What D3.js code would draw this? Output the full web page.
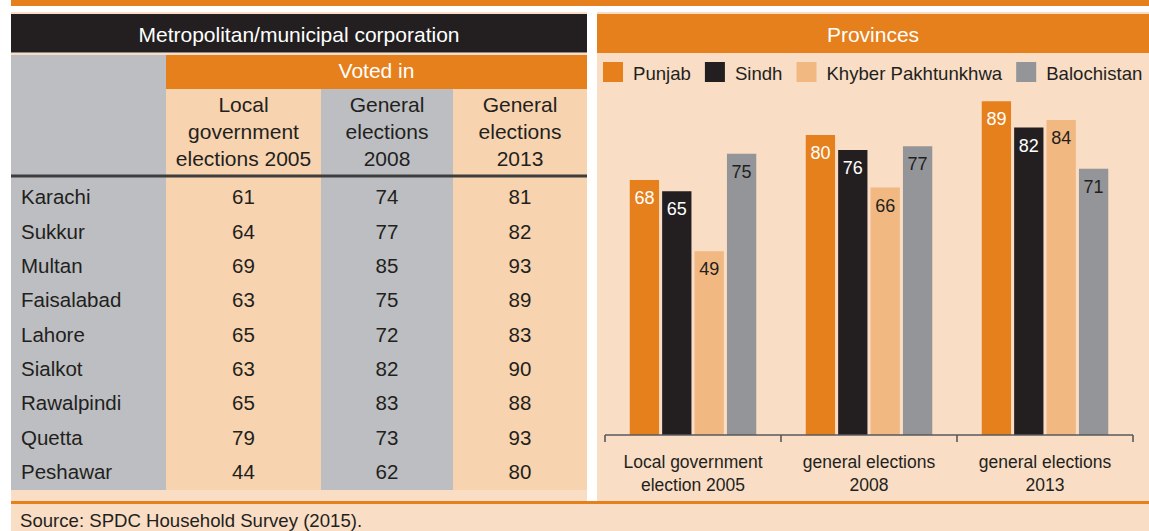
<!DOCTYPE html>
<html lang="en">
<head>
    <meta charset="utf-8">
    <title>Voting by city and province</title>
    <script src="https://d3js.org/d3.v7.min.js"></script>
    <style>
        body {
            margin: 0;
            background-color: #fff;
            font-family: "Liberation Sans", Arial, sans-serif;
        }
        text {
            fill: #231f20;
        }
    </style>
</head>
<body>
    <svg id="chart" width="1149" height="531"></svg>

    <script>
        // table data
        const cities = ["Karachi", "Sukkur", "Multan", "Faisalabad", "Lahore", "Sialkot", "Rawalpindi", "Quetta", "Peshawar"];
        const local2005 = [61, 64, 69, 63, 65, 63, 65, 79, 44];
        const general2008 = [74, 77, 85, 75, 72, 82, 83, 73, 62];
        const general2013 = [81, 82, 93, 89, 83, 90, 88, 93, 80];
        const tableHeads = [
            ["Local", "government", "elections 2005"],
            ["General", "elections", "2008"],
            ["General", "elections", "2013"]
        ];

        // bar chart data
        const categories = ["Local government election 2005", "general elections 2008", "general elections 2013"];
        const categoryLines = [["Local government", "election 2005"], ["general elections", "2008"], ["general elections", "2013"]];
        const provinces = ["Punjab", "Sindh", "Khyber Pakhtunkhwa", "Balochistan"];
        const punjab = [68, 80, 89];
        const sindh = [65, 76, 82];
        const kp = [49, 66, 84];
        const balochistan = [75, 77, 71];

        const orange = "#e5801d";
        const panelBg = "#f9ddc5";
        const tablePeach = "#f7d3af";
        const tableGray = "#bcbec1";
        const dark = "#231f20";

        const colors = d3.scaleOrdinal()
            .domain(provinces)
            .range([orange, dark, "#f2b882", "#939598"]);
        const labelColors = d3.scaleOrdinal()
            .domain(provinces)
            .range(["#fff", "#fff", dark, dark]);

        const svg = d3.select("#chart");

        // frame
        svg.append("rect").attr("x", 11).attr("y", 0).attr("width", 1138).attr("height", 6).attr("fill", orange);
        svg.append("rect").attr("x", 11).attr("y", 12).attr("width", 576).attr("height", 490).attr("fill", panelBg);
        svg.append("rect").attr("x", 597).attr("y", 12).attr("width", 552).attr("height", 490).attr("fill", panelBg);
        svg.append("rect").attr("x", 11).attr("y", 504).attr("width", 1138).attr("height", 27).attr("fill", panelBg);
        svg.append("rect").attr("x", 11).attr("y", 501).attr("width", 1138).attr("height", 3).attr("fill", orange);

        svg.append("text")
            .attr("x", 20).attr("y", 526.5)
            .style("font-size", "18.6px")
            .text("Source: SPDC Household Survey (2015).");

        // ---- table ----
        const table = svg.append("g");
        const colEdges = [11, 166, 321, 453, 587];

        table.append("rect").attr("x", 11).attr("y", 14).attr("width", 576).attr("height", 38).attr("fill", dark);
        table.append("rect").attr("x", 11).attr("y", 52).attr("width", 576).attr("height", 1).attr("fill", "#8a8a8c");
        table.append("text")
            .attr("x", 299).attr("y", 41.5)
            .attr("text-anchor", "middle")
            .style("font-size", "21px")
            .style("fill", "#fff")
            .text("Metropolitan/municipal corporation");

        table.append("rect").attr("x", 11).attr("y", 55).attr("width", 155).attr("height", 435).attr("fill", tableGray);
        table.append("rect").attr("x", 166).attr("y", 55).attr("width", 421).attr("height", 34).attr("fill", orange);
        table.append("text")
            .attr("x", 376.5).attr("y", 78.3)
            .attr("text-anchor", "middle")
            .style("font-size", "21px")
            .style("fill", "#fff")
            .text("Voted in");

        const colFills = [tablePeach, tableGray, tablePeach];
        colFills.forEach((f, i) => {
            table.append("rect")
                .attr("x", colEdges[i + 1]).attr("y", 89)
                .attr("width", colEdges[i + 2] - colEdges[i + 1]).attr("height", 401)
                .attr("fill", f);
        });

        tableHeads.forEach((lines, i) => {
            const cx = (colEdges[i + 1] + colEdges[i + 2]) / 2;
            lines.forEach((l, j) => {
                table.append("text")
                    .attr("x", cx).attr("y", 111.7 + j * 27.2)
                    .attr("text-anchor", "middle")
                    .style("font-size", "21px")
                    .text(l);
            });
        });

        table.append("rect").attr("x", 11).attr("y", 174.5).attr("width", 576).attr("height", 3).attr("fill", "#3d3d3e");

        const rowY = d3.scalePoint().domain(cities).range([204.2, 479.2]);
        const cols = [local2005, general2008, general2013];

        cities.forEach((c, r) => {
            table.append("text")
                .attr("x", 21).attr("y", rowY(c))
                .style("font-size", "20.5px")
                .text(c);
            cols.forEach((vals, i) => {
                table.append("text")
                    .attr("x", (colEdges[i + 1] + colEdges[i + 2]) / 2)
                    .attr("y", rowY(c))
                    .attr("text-anchor", "middle")
                    .style("font-size", "20.5px")
                    .text(vals[r]);
            });
        });

        // ---- provinces chart ----
        const chart = svg.append("g");
        chart.append("rect").attr("x", 597).attr("y", 14).attr("width", 552).attr("height", 39).attr("fill", orange);
        chart.append("text")
            .attr("x", 873).attr("y", 41.7)
            .attr("text-anchor", "middle")
            .style("font-size", "21px")
            .style("fill", "#fff")
            .text("Provinces");

        // legend
        let lx = 603;
        provinces.forEach(p => {
            chart.append("rect").attr("x", lx).attr("y", 62).attr("width", 20).attr("height", 20).attr("fill", colors(p));
            const t = chart.append("text")
                .attr("x", lx + 30).attr("y", 80)
                .style("font-size", "18.6px")
                .text(p);
            lx += 30 + t.node().getComputedTextLength() + 14;
        });

        const seriesValues = [punjab, sindh, kp, balochistan];
        const data = categories.map((c, i) => ({
            category: c,
            values: provinces.map((p, k) => ({ province: p, value: seriesValues[k][i] }))
        }));

        const x0 = d3.scaleBand().domain(categories).range([605, 1133]);
        const groupWidth = 126.5;
        const x1 = d3.scaleBand().domain(provinces).range([0, groupWidth]).paddingInner(0.096);
        const y = d3.scaleLinear().domain([0, 100]).range([435, 60]);
        const offset = (x0.bandwidth() - groupWidth) / 2;

        const groups = chart.selectAll(".group")
            .data(data)
            .join("g")
            .attr("class", "group")
            .attr("transform", d => `translate(${x0(d.category) + offset},0)`);

        groups.selectAll("rect")
            .data(d => d.values)
            .join("rect")
            .attr("x", d => x1(d.province))
            .attr("y", d => y(d.value))
            .attr("width", x1.bandwidth())
            .attr("height", d => y(0) - y(d.value))
            .attr("fill", d => colors(d.province));

        groups.selectAll("text")
            .data(d => d.values)
            .join("text")
            .attr("x", d => x1(d.province) + x1.bandwidth() / 2)
            .attr("y", d => y(d.value) + 24)
            .attr("text-anchor", "middle")
            .style("font-size", "18px")
            .style("fill", d => labelColors(d.province))
            .text(d => d.value);

        // axis
        const axisColor = "#58595b";
        const edges = categories.map(c => x0(c)).concat([x0.range()[1]]);
        chart.append("line")
            .attr("x1", edges[0]).attr("x2", edges[edges.length - 1])
            .attr("y1", y(0)).attr("y2", y(0))
            .attr("stroke", axisColor).attr("stroke-width", 1.6);
        chart.selectAll(".tick")
            .data(edges)
            .join("line")
            .attr("class", "tick")
            .attr("x1", d => d).attr("x2", d => d)
            .attr("y1", y(0)).attr("y2", y(0) + 7)
            .attr("stroke", axisColor).attr("stroke-width", 1.6);

        categories.forEach((c, i) => {
            categoryLines[i].forEach((l, j) => {
                chart.append("text")
                    .attr("x", x0(c) + x0.bandwidth() / 2)
                    .attr("y", 468.3 + j * 22.4)
                    .attr("text-anchor", "middle")
                    .style("font-size", "17.5px")
                    .text(l);
            });
        });
    </script>
</body>
</html>
